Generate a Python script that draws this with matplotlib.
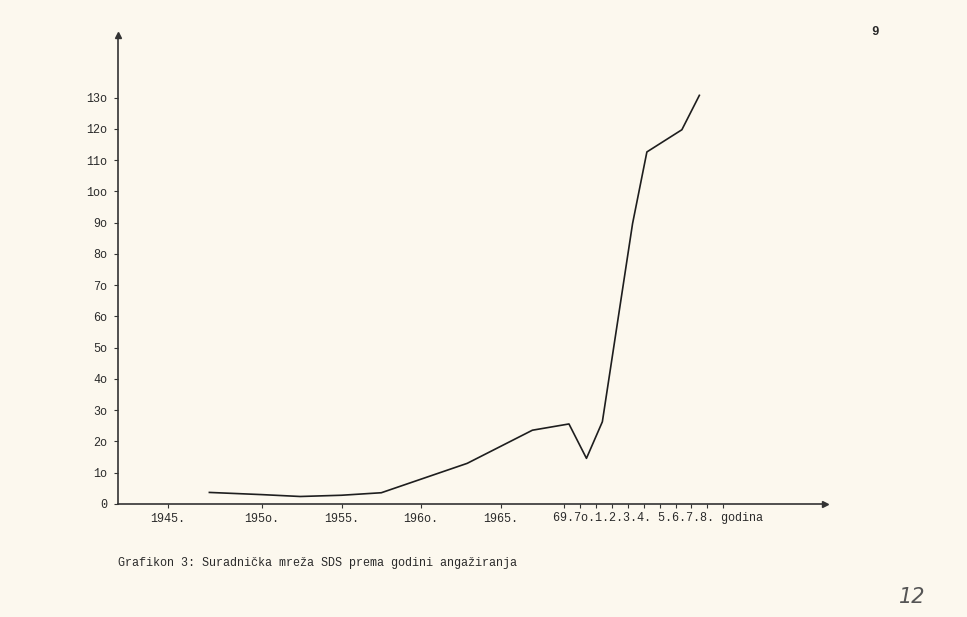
import numpy as np
import matplotlib.pyplot as plt

# values (positions are fractional years as drawn)
years = [1947.2, 1950.0, 1952.4, 1955.0, 1957.5, 1962.9, 1967.0,
         1969.3, 1970.4, 1971.4, 1973.3, 1974.2, 1976.4, 1977.5]
counts = [3.7, 3.0, 2.4, 2.8, 3.6, 13.0, 23.6,
          25.6, 14.6, 26.3, 89.7, 112.6, 119.7, 130.7]

early_ticks = [1945, 1950, 1955, 1960, 1965]
early_labels = ["1945.", "195o.", "1955.", "196o.", "1965."]
late_ticks = list(range(1969, 1980))
late_label = "69.7o.1.2.3.4. 5.6.7.8. godina"

y_ticks = list(range(0, 140, 10))
y_labels = ["0", "1o", "2o", "3o", "4o", "5o", "6o", "7o", "8o", "9o",
            "1oo", "11o", "12o", "13o"]

caption = "Grafikon 3: Suradnička mreža SDS prema godini angažiranja"

bg = "#fcf8ee"
ink = "#2a2a2a"
mono = "Liberation Mono"


# the typist squeezed the years after 1950 a little tighter than 1945-1950
def fwd(y):
    return np.interp(y, [1900, 1950, 2000], [262 - 50 * 18.8, 262, 262 + 50 * 15.9])


def inv(p):
    return np.interp(p, [262 - 50 * 18.8, 262, 262 + 50 * 15.9], [1900, 1950, 2000])


fig = plt.figure(figsize=(9.67, 6.17), dpi=100, facecolor=bg)
ax = fig.add_axes([118 / 967, 113 / 617, 707 / 967, 469 / 617])
ax.set_facecolor(bg)
ax.set_xscale("function", functions=(fwd, inv))
ax.set_xlim(1942.34, 1985.4)
ax.set_ylim(0, 150)

ax.plot(years, counts, color="#1e1e1e", lw=1.2)

for s in ["top", "right"]:
    ax.spines[s].set_visible(False)
for s in ["left", "bottom"]:
    ax.spines[s].set_color("#333333")
    ax.spines[s].set_linewidth(1.2)

# arrow heads on the axes
ax.plot(1, 0, ">", color="#333333", ms=4, transform=ax.transAxes, clip_on=False)
ax.plot(0, 1, "^", color="#333333", ms=4, transform=ax.transAxes, clip_on=False)

ax.set_xticks(early_ticks + late_ticks)
ax.set_xticklabels(early_labels + [""] * len(late_ticks))
ax.set_yticks(y_ticks)
ax.set_yticklabels(y_labels)
ax.minorticks_off()
ax.tick_params(direction="out", length=3, width=0.8, color="#333333",
               labelsize=8.5, labelcolor=ink)
ax.tick_params(axis="x", pad=3.5)
ax.tick_params(axis="y", pad=5)
for lab in ax.get_xticklabels() + ax.get_yticklabels():
    lab.set_family(mono)

ax.annotate(late_label, xy=(1968.3, 0), xycoords=("data", "axes fraction"),
            xytext=(0, -5.7), textcoords="offset points", ha="left", va="top",
            fontsize=8.5, family=mono, color=ink)

fig.text(118 / 967, 1 - 563 / 617, caption, ha="left", va="center",
         fontsize=8.5, family=mono, color=ink)
fig.text(875 / 967, 1 - 32 / 617, "9", ha="center", va="center",
         fontsize=9, family=mono, weight="bold", color=ink)
fig.text(912 / 967, 1 - 597 / 617, "12", ha="center", va="center",
         fontsize=15, style="italic", color="#555555")

fig.savefig("out.png", dpi=100, facecolor=bg)
